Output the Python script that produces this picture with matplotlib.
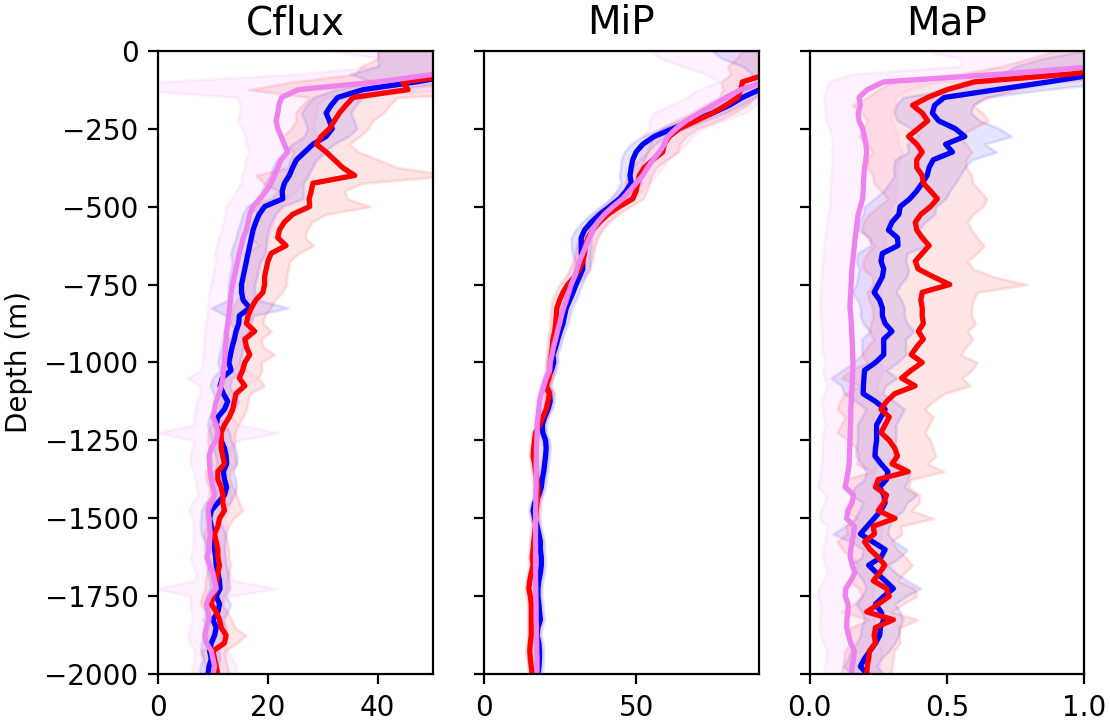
import numpy as np
import matplotlib
matplotlib.use("Agg")
import matplotlib.pyplot as plt

# depth levels (m), 25 m bins
depth = np.arange(0, 2001, 25)

# ---- Cflux ----
cflux_b = [85, 80, 70, 55, 47, 37.3, 32.7, 31.5, 30.6, 31.2,
           31.7, 30.6, 28.2, 26.7, 25.2, 24.5, 23.9, 23.0, 22.6, 22.7,
           19.4, 18.4, 17.8, 17.3, 17.0, 16.7, 16.4, 16.1, 15.8, 15.5,
           15.2, 15.2, 15.5, 16.7, 14.8, 14.7, 14.2, 13.9, 13.5, 13.2,
           12.9, 13.3, 11.7, 11.3, 11.9, 12.7, 12.1, 10.9, 10.6, 11.2,
           11.5, 12.1, 12.4, 12.5, 11.9, 12.1, 12.5, 12.1, 10.9, 9.7,
           9.4, 9.7, 10.1, 10.3, 10.3, 10.5, 10.6, 10.9, 11.2, 11.3,
           10.6, 11.2, 10.9, 10.0, 10.6, 10.3, 9.7, 9.4, 9.7, 9.3,
           9.1]
cflux_b_sd = [45, 40, 30, 20, 8, 5, 4.5, 4.5, 4.5, 4.5,
              4.5, 4.0, 3.8, 3.6, 3.6, 3.6, 3.5, 3.5, 3.8, 3.7,
              3.2, 3.0, 2.8, 2.8, 2.8, 3.0, 3.2, 2.6, 2.5, 2.5,
              2.4, 2.4, 2.8, 7.0, 2.5, 2.2, 2.2, 2.0, 2.0, 2.0,
              2.0, 2.0, 1.8, 1.8, 1.8, 2.0, 1.8, 1.6, 1.6, 1.8,
              1.8, 2.0, 2.0, 1.8, 1.8, 2.0, 1.8, 1.8, 2.2, 1.8,
              1.6, 2.0, 2.2, 1.8, 1.8, 1.8, 1.8, 1.8, 1.8, 1.8,
              1.8, 2.0, 1.8, 1.8, 1.8, 2.0, 1.8, 1.6, 1.6, 1.6,
              1.6]
cflux_r = [75, 70, 62, 56, 44.5, 45.5, 35.5, 34.2, 33.0, 32.1,
           31.2, 29.7, 28.8, 30.6, 32.1, 33.6, 35.8, 28.2, 27.9, 27.5,
           27.6, 24.5, 23.0, 22.1, 21.8, 23.3, 20.6, 20.0, 19.7, 19.4,
           19.4, 19.1, 17.8, 17.0, 16.4, 16.1, 17.6, 15.8, 16.1, 16.7,
           15.8, 15.4, 14.8, 15.8, 14.2, 13.9, 13.6, 13.0, 12.1, 11.5,
           11.5, 11.5, 11.8, 12.1, 10.9, 10.9, 11.5, 11.8, 11.8, 12.1,
           11.2, 10.9, 10.3, 10.6, 10.9, 10.9, 11.2, 10.9, 10.6, 10.6,
           10.0, 9.7, 10.6, 11.2, 11.5, 12.4, 12.1, 10.0, 10.3, 10.6,
           10.9]
cflux_r_sd = [35, 30, 25, 20, 20, 29, 8, 8, 8, 7,
              7, 7, 6, 6, 8, 10, 18, 9, 6, 7,
              11, 6, 5, 5, 5, 5, 5, 4, 4, 4,
              4, 3.5, 3.5, 3.5, 3, 3, 3, 3, 3, 4.5,
              3, 3.5, 3.5, 3.5, 2.5, 2.5, 2.5, 2.5, 2.5, 2.5,
              2.5, 2.2, 2.2, 2.2, 2.2, 2.2, 2.2, 2.5, 3.0, 3.3,
              2.5, 2.0, 2.0, 2.0, 2.0, 2.0, 2.0, 2.0, 2.0, 2.0,
              2.0, 2.0, 2.0, 2.2, 2.5, 3.6, 2.2, 2.2, 2.0, 2.0,
              2.0]
cflux_v = [80, 85, 70, 50.5, 40, 25.5, 22.5, 22.0, 21.8, 21.5,
           21.8, 22.4, 23.0, 23.6, 22.4, 21.8, 21.2, 20.6, 19.7, 18.5,
           17.3, 16.7, 16.4, 16.1, 15.5, 15.2, 14.8, 14.5, 14.2, 13.9,
           13.6, 13.3, 13.2, 13.0, 12.9, 12.7, 12.5, 12.4, 12.3, 12.2,
           12.1, 11.9, 11.8, 11.5, 11.1, 10.6, 10.3, 10.0, 10.6, 10.9,
           10.6, 9.7, 9.3, 9.4, 9.5, 9.7, 10.0, 10.3, 9.7, 9.1,
           9.3, 9.4, 9.5, 9.4, 9.3, 8.9, 9.4, 10.0, 10.3, 10.6,
           9.4, 8.8, 9.1, 9.3, 8.8, 8.5, 8.8, 9.7, 10.0, 10.3,
           10.0]
cflux_v_sd = [50, 44, 30, 25, 40, 30, 8, 7, 7, 7,
              6.5, 6.5, 7, 7, 6.5, 6, 6, 5.5, 5.5, 5,
              5, 4.5, 4.5, 4.5, 4.5, 4.5, 4.5, 4, 4, 4,
              4, 4, 4, 4, 4, 4, 4, 4, 4, 4,
              4, 4, 6.5, 4, 3.5, 3.5, 3.5, 3.5, 4, 11,
              4, 3.5, 3.5, 3.5, 3, 3, 3, 3, 3.5, 3.5,
              3, 3, 3, 3, 3, 3, 3, 3, 3.5, 11,
              3.5, 3, 3, 3, 3, 3, 3, 3, 3.5, 4,
              4]

# ---- MiP ----
mip_b = [125, 118, 110, 103, 97, 90.5, 84.9, 80.6, 75.1, 68.6,
         62.0, 56.0, 52.2, 50.0, 48.9, 48.4, 48.0, 48.4, 46.7, 44.5,
         41.3, 38.0, 35.3, 33.1, 32.0, 32.0, 32.0, 32.5, 32.5, 31.4,
         30.3, 29.3, 28.2, 27.1, 26.5, 26.0, 25.1, 24.3, 23.6, 22.7,
         23.0, 22.2, 21.1, 20.5, 21.6, 21.8, 21.1, 20.0, 19.2, 19.4,
         20.3, 20.5, 20.3, 20.0, 19.7, 19.2, 18.9, 18.1, 16.7, 16.2,
         16.7, 17.5, 18.1, 18.6, 18.6, 18.9, 18.9, 18.6, 18.1, 17.8,
         17.8, 18.1, 18.3, 18.6, 17.8, 17.5, 18.1, 18.3, 18.3, 18.1,
         17.8]
mip_b_sd = [50, 40, 25, 15, 8, 5, 4, 4, 4, 4,
            4, 4, 4, 3.8, 3.8, 3.5, 3.5, 3.5, 3, 3,
            3, 3, 3, 3, 3.3, 3.3, 3, 2.5, 2.5, 2,
            2, 2, 2, 1.8, 1.8, 1.6, 1.6, 1.5, 1.5, 1.5,
            1.5, 1.5, 1.4, 1.4, 1.5, 1.4, 1.3, 1.3, 1.3, 1.3,
            1.3, 1.3, 1.3, 1.3, 1.3, 1.3, 1.3, 1.3, 1.4, 1.4,
            1.4, 1.3, 1.3, 1.3, 1.3, 1.3, 1.3, 1.3, 1.3, 1.3,
            1.3, 1.3, 1.3, 1.3, 1.3, 1.3, 1.3, 1.3, 1.3, 1.3,
            1.3]
mip_r = [115, 108, 100, 93, 84.9, 84.4, 83.3, 79.5, 75.1, 69.7,
         64.2, 60.9, 59.3, 58.7, 55.5, 52.7, 51.1, 50.5, 50.0, 48.9,
         44.5, 40.7, 38.0, 35.8, 34.2, 33.4, 33.1, 32.5, 31.4, 29.8,
         27.6, 26.0, 24.9, 24.0, 23.8, 23.6, 23.3, 22.7, 22.5, 22.2,
         21.8, 21.8, 21.4, 20.5, 21.6, 21.1, 20.5, 19.4, 18.3, 17.0,
         16.7, 16.4, 16.2, 16.7, 17.0, 17.5, 17.8, 17.8, 17.5, 17.2,
         17.0, 17.0, 16.7, 16.4, 16.2, 15.9, 16.2, 15.6, 15.1, 14.8,
         15.3, 15.6, 15.6, 15.6, 15.6, 15.6, 15.3, 15.1, 15.3, 15.6,
         15.9]
mip_r_sd = [30, 25, 20, 12, 7, 6, 6, 7, 7, 7,
            6, 5.5, 5, 5, 4.5, 4, 4, 4, 3.5, 3.5,
            3.5, 3.5, 3, 3, 3, 3, 3, 3, 3, 3,
            2.8, 2.5, 2.5, 2, 2, 2, 1.8, 1.8, 1.6, 1.6,
            1.5, 1.5, 1.4, 1.4, 1.4, 1.4, 1.3, 1.3, 1.3, 1.3,
            1.3, 1.3, 1.3, 1.3, 1.3, 1.3, 1.3, 1.3, 1.3, 1.3,
            1.3, 1.3, 1.3, 1.3, 1.3, 1.3, 1.3, 1.3, 1.3, 1.3,
            1.3, 1.3, 1.3, 1.3, 1.3, 1.3, 1.3, 1.3, 1.3, 1.3,
            1.3]
mip_v = [120, 112, 105, 98, 92, 84.4, 79.5, 75.1, 70.7, 66.4,
         63.1, 60.4, 59.3, 57.6, 55.5, 53.8, 52.2, 50.0, 47.8, 45.6,
         42.4, 39.6, 37.4, 35.8, 34.7, 33.6, 32.5, 31.4, 30.6, 29.8,
         28.7, 27.9, 27.1, 26.2, 25.5, 24.9, 24.2, 23.6, 22.9, 22.4,
         21.8, 21.6, 20.5, 19.7, 18.9, 18.3, 18.1, 17.8, 17.5, 17.5,
         17.4, 17.3, 17.3, 17.2, 17.2, 17.2, 17.2, 17.1, 17.1, 17.0,
         17.0, 17.0, 17.0, 17.0, 17.0, 17.0, 17.0, 17.0, 17.0, 17.1,
         17.1, 17.2, 17.2, 17.2, 17.3, 17.3, 17.4, 17.4, 17.5, 17.5,
         17.5]
mip_v_sd = [65, 54, 40, 25, 15, 14, 13, 14, 15, 12,
            9, 8, 7, 6, 5, 5, 4.5, 4, 4, 4,
            3.5, 3.5, 3.5, 3, 3, 3, 2.8, 2.6, 2.5, 2.4,
            2.2, 2.2, 2, 2, 2, 1.8, 1.8, 1.8, 1.6, 1.6,
            1.5, 1.4, 1.4, 1.3, 1.3, 1.2, 1.2, 1.2, 1.2, 1.2,
            1.2, 1.2, 1.2, 1.2, 1.2, 1.2, 1.2, 1.2, 1.2, 1.2,
            1.2, 1.2, 1.2, 1.2, 1.2, 1.2, 1.2, 1.2, 1.2, 1.2,
            1.2, 1.2, 1.2, 1.2, 1.2, 1.2, 1.2, 1.2, 1.2, 1.2,
            1.2]

# ---- MaP ----
map_b = [1.5, 1.3, 1.15, 1.05, 0.87, 0.68, 0.49, 0.455, 0.447, 0.47,
         0.53, 0.565, 0.495, 0.52, 0.45, 0.435, 0.428, 0.41, 0.39, 0.365,
         0.33, 0.325, 0.30, 0.287, 0.32, 0.322, 0.265, 0.26, 0.27, 0.265,
         0.25, 0.235, 0.255, 0.265, 0.265, 0.275, 0.30, 0.27, 0.27, 0.27,
         0.24, 0.2, 0.198, 0.196, 0.195, 0.24, 0.275, 0.26, 0.244, 0.244,
         0.244, 0.24, 0.238, 0.26, 0.285, 0.28, 0.255, 0.27, 0.275, 0.26,
         0.235, 0.21, 0.185, 0.23, 0.275, 0.26, 0.215, 0.244, 0.275, 0.305,
         0.27, 0.24, 0.26, 0.27, 0.258, 0.255, 0.24, 0.22, 0.2, 0.185,
         0.21]
map_b_sd = [0.5, 0.45, 0.4, 0.35, 0.25, 0.18, 0.15, 0.14, 0.14, 0.15,
            0.16, 0.17, 0.14, 0.16, 0.14, 0.13, 0.12, 0.12, 0.12, 0.13,
            0.13, 0.13, 0.12, 0.11, 0.1, 0.1, 0.09, 0.09, 0.09, 0.09,
            0.08, 0.08, 0.08, 0.08, 0.08, 0.08, 0.08, 0.08, 0.08, 0.08,
            0.08, 0.08, 0.12, 0.08, 0.07, 0.07, 0.07, 0.07, 0.07, 0.07,
            0.07, 0.07, 0.07, 0.07, 0.08, 0.08, 0.09, 0.12, 0.08, 0.08,
            0.07, 0.08, 0.1, 0.08, 0.08, 0.07, 0.07, 0.07, 0.08, 0.1,
            0.08, 0.07, 0.07, 0.07, 0.07, 0.07, 0.07, 0.07, 0.06, 0.06,
            0.06]
map_r = [1.5, 1.3, 1.15, 0.95, 0.6, 0.5, 0.43, 0.375, 0.41, 0.43,
         0.395, 0.36, 0.39, 0.41, 0.39, 0.39, 0.41, 0.414, 0.44, 0.465,
         0.44, 0.405, 0.385, 0.39, 0.41, 0.435, 0.41, 0.385, 0.395, 0.45,
         0.51, 0.41, 0.405, 0.41, 0.41, 0.414, 0.396, 0.414, 0.39, 0.37,
         0.41, 0.37, 0.335, 0.384, 0.31, 0.28, 0.26, 0.29, 0.275, 0.26,
         0.29, 0.31, 0.32, 0.30, 0.359, 0.25, 0.24, 0.28, 0.27, 0.25,
         0.311, 0.232, 0.236, 0.2, 0.22, 0.25, 0.274, 0.255, 0.232, 0.28,
         0.29, 0.25, 0.208, 0.305, 0.24, 0.235, 0.24, 0.218, 0.215, 0.21,
         0.208]
map_r_sd = [0.6, 0.5, 0.45, 0.4, 0.3, 0.25, 0.22, 0.22, 0.22, 0.22,
            0.2, 0.18, 0.18, 0.18, 0.18, 0.18, 0.18, 0.18, 0.18, 0.18,
            0.19, 0.19, 0.19, 0.2, 0.2, 0.2, 0.2, 0.19, 0.2, 0.22,
            0.28, 0.2, 0.19, 0.18, 0.18, 0.19, 0.18, 0.18, 0.18, 0.18,
            0.2, 0.22, 0.22, 0.2, 0.18, 0.17, 0.16, 0.16, 0.16, 0.16,
            0.15, 0.14, 0.14, 0.13, 0.13, 0.12, 0.12, 0.12, 0.13, 0.12,
            0.14, 0.1, 0.1, 0.1, 0.1, 0.1, 0.1, 0.09, 0.09, 0.1,
            0.1, 0.09, 0.09, 0.09, 0.09, 0.09, 0.09, 0.09, 0.09, 0.09,
            0.09]
map_v = [1.2, 1.1, 1.05, 0.7, 0.27, 0.21, 0.18, 0.185, 0.177, 0.18,
         0.193, 0.2, 0.205, 0.208, 0.205, 0.2, 0.198, 0.196, 0.195, 0.193,
         0.185, 0.177, 0.173, 0.17, 0.166, 0.163, 0.16, 0.157, 0.154, 0.153,
         0.151, 0.15, 0.148, 0.147, 0.15, 0.152, 0.153, 0.155, 0.156, 0.157,
         0.158, 0.157, 0.156, 0.155, 0.153, 0.152, 0.15, 0.15, 0.149, 0.148,
         0.147, 0.146, 0.145, 0.144, 0.14, 0.135, 0.13, 0.16, 0.155, 0.14,
         0.135, 0.163, 0.16, 0.155, 0.15, 0.148, 0.156, 0.165, 0.15, 0.132,
         0.13, 0.14, 0.14, 0.136, 0.135, 0.142, 0.15, 0.163, 0.16, 0.155,
         0.153]
map_v_sd = [0.8, 0.55, 0.5, 0.55, 0.2, 0.15, 0.13, 0.13, 0.12, 0.12,
            0.12, 0.12, 0.12, 0.13, 0.12, 0.12, 0.12, 0.12, 0.12, 0.12,
            0.11, 0.11, 0.11, 0.11, 0.11, 0.11, 0.11, 0.11, 0.11, 0.11,
            0.11, 0.11, 0.11, 0.11, 0.11, 0.11, 0.11, 0.11, 0.11, 0.11,
            0.1, 0.11, 0.1, 0.09, 0.1, 0.11, 0.1, 0.1, 0.09, 0.1,
            0.1, 0.1, 0.1, 0.1, 0.1, 0.1, 0.1, 0.1, 0.1, 0.1,
            0.1, 0.1, 0.1, 0.1, 0.1, 0.1, 0.1, 0.1, 0.1, 0.1,
            0.1, 0.1, 0.1, 0.1, 0.1, 0.1, 0.1, 0.1, 0.1, 0.1,
            0.1]

panels = [
    ("Cflux", (0, 50), [0, 20, 40],
     [(cflux_b, cflux_b_sd), (cflux_r, cflux_r_sd), (cflux_v, cflux_v_sd)]),
    ("MiP", (0, 90.2), [0, 50],
     [(mip_b, mip_b_sd), (mip_r, mip_r_sd), (mip_v, mip_v_sd)]),
    ("MaP", (0, 1), [0.0, 0.5, 1.0],
     [(map_b, map_b_sd), (map_r, map_r_sd), (map_v, map_v_sd)]),
]
colors = ["blue", "red", "violet"]

DPI = 200
fig, axes = plt.subplots(1, 3, sharey=True, figsize=(1110 / DPI, 720 / DPI), dpi=DPI)
fig.subplots_adjust(left=0.1423, right=0.9769, bottom=0.0635, top=0.9296, wspace=0.1855)

y = -depth
for ax, (title, xlim, xticks, series) in zip(axes, panels):
    for (mean, sd), c in zip(series, colors):
        mean = np.asarray(mean, dtype=float)
        sd = np.asarray(sd, dtype=float)
        ax.fill_betweenx(y, mean - sd, mean + sd, color=c, alpha=0.1)
    for (mean, sd), c in zip(series, colors):
        ax.plot(mean, y, color=c, lw=1.9)
    ax.set_title(title, fontsize=14)
    ax.set_xlim(*xlim)
    ax.set_xticks(xticks)

axes[0].set_ylim(-2000, 0)
axes[0].set_yticks(np.arange(0, -2001, -250))
axes[0].set_ylabel("Depth (m)")

fig.savefig("out.png", dpi=DPI)
